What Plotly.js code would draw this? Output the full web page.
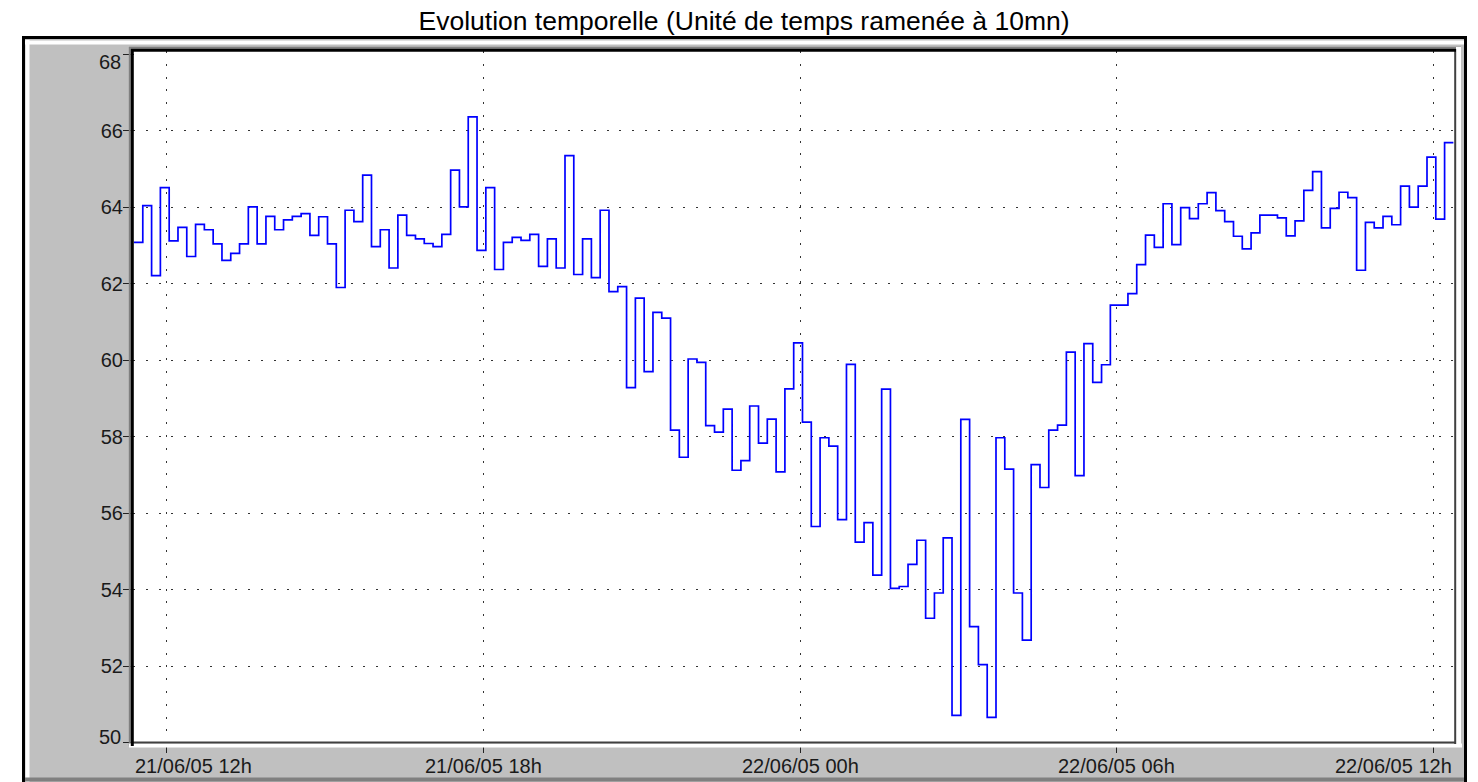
<!DOCTYPE html>
<html>
<head>
<meta charset="utf-8">
<script src="https://cdn.plot.ly/plotly-3.0.1.min.js"></script>
<style>
  html, body { margin: 0; padding: 0; background: #ffffff; }
  #chart { width: 1478px; height: 782px; }
</style>
</head>
<body>
<div id="chart"></div>
<script>
// ---- data ----
const chartTitle = "Evolution temporelle (Unité de temps ramenée à 10mn)";
const startTime = "2005-06-21 11:22:50";   // start of the first 10-minute interval
const stepMinutes = 10;

const values = [
  63.08, 64.04, 62.21, 64.51, 63.12, 63.47, 62.71, 63.55, 63.41, 63.04,
  62.61, 62.79, 63.04, 64.01, 63.04, 63.76, 63.41, 63.67, 63.76, 63.83,
  63.26, 63.75, 63.04, 61.90, 63.92, 63.62, 64.84, 62.97, 63.41, 62.41,
  63.79, 63.26, 63.17, 63.05, 62.97, 63.29, 64.97, 64.01, 66.36, 62.87,
  64.51, 62.37, 63.08, 63.21, 63.13, 63.29, 62.45, 63.17, 62.41, 65.35,
  62.24, 63.17, 62.16, 63.92, 61.79, 61.92, 59.28, 61.62, 59.70, 61.25,
  61.10, 58.17, 57.46, 60.03, 59.94, 58.29, 58.12, 58.72, 57.12, 57.37,
  58.80, 57.83, 58.46, 57.08, 59.25, 60.45, 58.38, 55.65, 57.97, 57.75,
  55.83, 59.89, 55.24, 55.75, 54.38, 59.24, 54.03, 54.08, 54.66, 55.29,
  53.25, 53.91, 55.35, 50.71, 58.45, 53.03, 52.04, 50.66, 57.97, 57.15,
  53.91, 52.68, 57.27, 56.67, 58.17, 58.30, 60.21, 56.98, 60.43, 59.42,
  59.88, 61.44, 61.44, 61.74, 62.50, 63.27, 62.95, 64.09, 63.02, 63.99,
  63.70, 64.09, 64.38, 63.91, 63.62, 63.24, 62.91, 63.33, 63.79, 63.79,
  63.72, 63.25, 63.64, 64.44, 64.93, 63.46, 63.97, 64.39, 64.25, 62.35,
  63.60, 63.46, 63.76, 63.54, 64.55, 64.00, 64.55, 65.31, 63.69, 65.69
];

const yTickVals = [50, 52, 54, 56, 58, 60, 62, 64, 66, 68];
const yTickText = ["50", "52", "54", "56", "58", "60", "62", "64", "66", "68"];
const xTickVals = ["2005-06-21 12:00", "2005-06-21 18:00", "2005-06-22 00:00", "2005-06-22 06:00", "2005-06-22 12:00"];
const xTickText = ["21/06/05 12h", "21/06/05 18h", "22/06/05 00h", "22/06/05 06h", "22/06/05 12h"];
const xRange = ["2005-06-21 11:21:42", "2005-06-22 12:24:40"];
const yRange = [49.988, 68.084];

// ---- build time axis (interval boundaries) ----
function fmt(ms) {
  return new Date(ms).toISOString().slice(0, 19).replace("T", " ");
}
const t0 = Date.parse(startTime.replace(" ", "T") + "Z");
const xs = [];
const ys = [];
for (let i = 0; i < values.length; i++) {
  xs.push(fmt(t0 + i * stepMinutes * 60000));
  ys.push(values[i]);
}
// close the last interval
xs.push(fmt(t0 + values.length * stepMinutes * 60000));
ys.push(values[values.length - 1]);

// ---- geometry helpers (pixel -> paper) ----
const M = { l: 133, r: 23, t: 51, b: 39 };
const W = 1478 - M.l - M.r, H = 782 - M.t - M.b;
const px = x => (x - M.l) / W;
const py = y => (782 - M.b - y) / H;

function hline(y, x0, x1, color, w, layer) {
  return { type: "line", xref: "paper", yref: "paper", x0: px(x0), x1: px(x1), y0: py(y), y1: py(y),
           line: { color: color, width: w }, layer: layer || "above" };
}
function vline(x, y0, y1, color, w, layer) {
  return { type: "line", xref: "paper", yref: "paper", x0: px(x), x1: px(x), y0: py(y0), y1: py(y1),
           line: { color: color, width: w }, layer: layer || "above" };
}

const shapes = [
  // grey panel with black outer frame
  { type: "rect", xref: "paper", yref: "paper", x0: px(23.5), x1: px(1465.5), y0: py(800), y1: py(37.5),
    fillcolor: "#c0c0c0", line: { color: "#000000", width: 3 }, layer: "below" },
  // plot area
  { type: "rect", xref: "paper", yref: "paper", x0: 0, x1: 1, y0: 0, y1: 1,
    fillcolor: "#ffffff", line: { width: 0 }, layer: "below" },
  // panel bevel
  vline(27.5, 40, 782, "#ffffff", 4, "below"),
  hline(42.5, 25, 1464, "#ffffff", 4, "below"),
  hline(779.5, 25, 1464, "#808080", 4, "below"),
  // no grid row along the very top
  hline(54.2, 134, 1454, "#ffffff", 2),
  // sunken frame of the plot area
  vline(129.8, 746, 47, "#808080", 2),
  hline(47.8, 129, 1461, "#808080", 2),
  hline(745.5, 129, 1462, "#ffffff", 4),
  vline(1458.5, 47, 747, "#ffffff", 5),
  hline(742.5, 131, 1456, "#404040", 2),
  vline(1455.2, 49, 744, "#404040", 2),
  vline(132.3, 746, 49, "#000000", 3),
  hline(50.3, 131, 1456, "#000000", 3)
];

const labelFont = { family: "Liberation Sans, Arial, sans-serif", size: 20, color: "#1a1a1a" };

// x labels: the two edge labels are pushed inside the plot width
const xShift = [27, 0, 0, 0, -40];
const annotations = xTickText.map((t, i) => ({
  x: xTickVals[i], xref: "x", y: -0.0335, yref: "paper",
  text: t, showarrow: false, xanchor: "center", yanchor: "middle", xshift: xShift[i],
  font: labelFont
}));
// y edge labels (50 and 68) are nudged inward like the original
const yEdge = [[0, 6], [yTickVals.length - 1, -8]];
yEdge.forEach(([i, shift]) => {
  annotations.push({
    x: px(123), xref: "paper", y: yTickVals[i], yref: "y",
    text: yTickText[i], showarrow: false, xanchor: "right", yanchor: "middle", yshift: shift,
    font: labelFont
  });
});
const yAxisText = yTickText.map((t, i) => (i === 0 || i === yTickText.length - 1) ? "" : t);

const trace = {
  x: xs, y: ys, type: "scatter", mode: "lines",
  line: { shape: "hv", color: "#0000ff", width: 1.7 },
  hoverinfo: "x+y"
};

const layout = {
  width: 1478, height: 782,
  margin: M,
  paper_bgcolor: "#ffffff",
  plot_bgcolor: "#ffffff",
  showlegend: false,
  title: {
    text: chartTitle, xref: "container", x: 0.5034, xanchor: "center",
    yref: "container", y: 0.9735, yanchor: "middle",
    font: { family: "Liberation Sans, Arial, sans-serif", size: 26.5, color: "#000000" }
  },
  xaxis: {
    type: "date", range: xRange, tickvals: xTickVals, ticktext: xTickText,
    showticklabels: false, ticks: "outside", ticklen: 9, tickwidth: 1, tickcolor: "#222222",
    showgrid: true, gridcolor: "#333333", gridwidth: 1, griddash: "2px,10.8px",
    zeroline: false, showline: false, fixedrange: true
  },
  yaxis: {
    range: yRange, tickvals: yTickVals, ticktext: yAxisText,
    ticks: "outside", ticklen: 9, tickwidth: 1, tickcolor: "#222222", ticklabelstandoff: -4,
    tickfont: labelFont,
    showgrid: true, gridcolor: "#333333", gridwidth: 1, griddash: "2px,10.8px",
    zeroline: false, showline: false, fixedrange: true
  },
  shapes: shapes,
  annotations: annotations
};

Plotly.newPlot("chart", [trace], layout, { displayModeBar: false, staticPlot: true });
</script>
</body>
</html>
